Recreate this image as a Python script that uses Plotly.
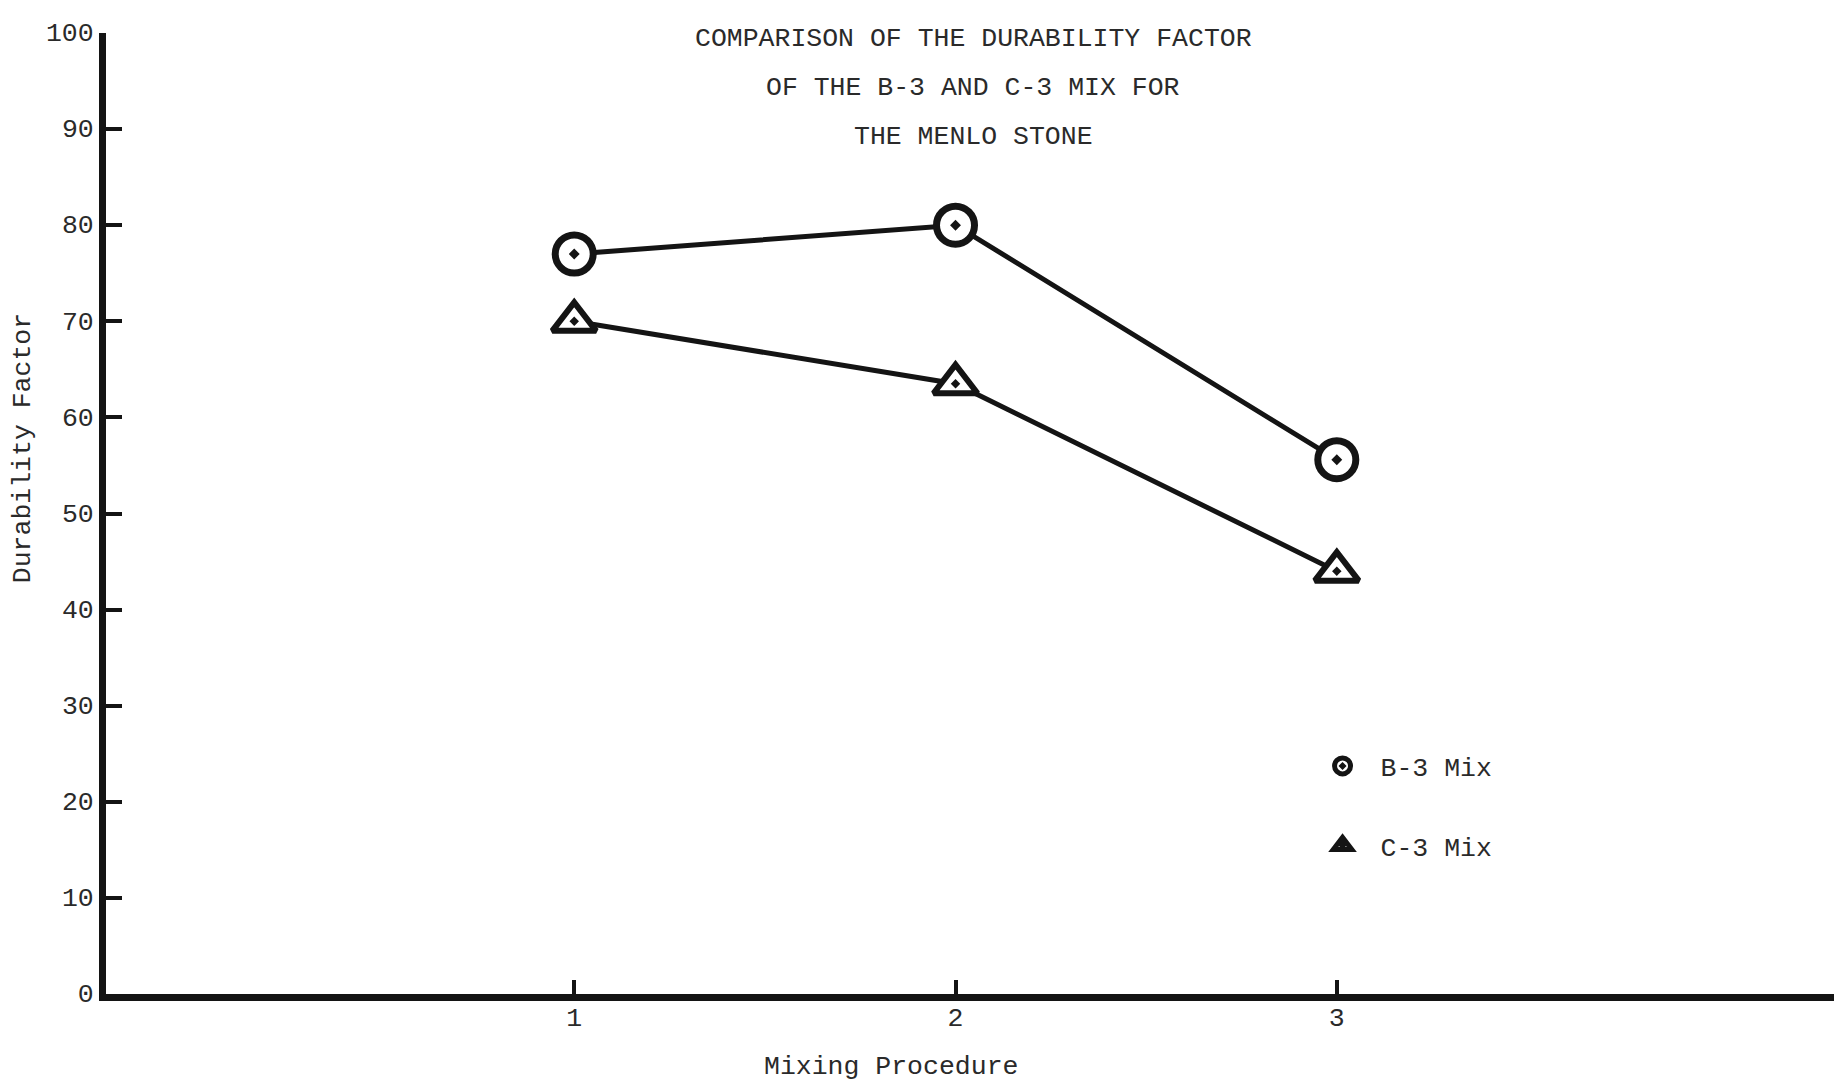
import plotly.graph_objects as go

# ---- data ----
procedures = [1, 2, 3]
b3_values = [77, 80, 55.6]
c3_values = [70, 63.5, 44]
series_names = ["B-3 Mix", "C-3 Mix"]
x_tick_vals = [1, 2, 3]
x_tick_text = ["1", "2", "3"]
y_tick_vals = [0, 10, 20, 30, 40, 50, 60, 70, 80, 90, 100]
y_tick_text = ["0", "10", "20", "30", "40", "50", "60", "70", "80", "90", "100"]
title_lines = [
    "COMPARISON OF THE DURABILITY FACTOR",
    "OF THE B-3 AND C-3 MIX FOR",
    "THE MENLO STONE",
]
x_title = "Mixing Procedure"
y_title = "Durability Factor"

FONT = "Liberation Mono"
INK = "#141414"
TXT = "#2a2a2a"

circle_marker = dict(symbol="circle-dot", size=38, color="white",
                     line=dict(color=INK, width=7))
tri_marker = dict(symbol="triangle-up-dot", size=38, color="white",
                  line=dict(color=INK, width=6))

fig = go.Figure()
fig.add_trace(go.Scatter(
    x=procedures, y=b3_values, name=series_names[0], mode="lines+markers",
    line=dict(color=INK, width=5), marker=circle_marker,
    showlegend=False, cliponaxis=False,
))
fig.add_trace(go.Scatter(
    x=procedures, y=c3_values, name=series_names[1], mode="lines+markers",
    line=dict(color=INK, width=5), marker=tri_marker,
    showlegend=False, cliponaxis=False,
))
# legend entries (marker only)
fig.add_trace(go.Scatter(
    x=[None], y=[None], name=series_names[0], mode="markers",
    marker=circle_marker, legendgroup="b", showlegend=True,
))
fig.add_trace(go.Scatter(
    x=[None], y=[None], name=series_names[1], mode="markers",
    marker=tri_marker, legendgroup="c", showlegend=True,
))

annotations = []
title_y = [0.994, 0.943, 0.892]
for line, yy in zip(title_lines, title_y):
    annotations.append(dict(text=line, xref="paper", yref="paper", x=0.502, y=yy,
                            xanchor="center", yanchor="middle", showarrow=False,
                            font=dict(family=FONT, size=26.5, color=TXT)))
annotations.append(dict(text=x_title, xref="paper", yref="paper", x=0.454, y=-0.076,
                        xanchor="center", yanchor="middle", showarrow=False,
                        font=dict(family=FONT, size=26.5, color=TXT)))
annotations.append(dict(text=y_title, xref="paper", yref="paper", x=-0.048, y=0.568,
                        xanchor="center", yanchor="middle", showarrow=False, textangle=-90,
                        font=dict(family=FONT, size=26.5, color=TXT)))

fig.update_layout(
    width=1838, height=1085,
    margin=dict(l=106, r=4, t=33, b=91),
    paper_bgcolor="white", plot_bgcolor="white",
    font=dict(family=FONT, size=26.5, color=TXT),
    showlegend=True,
    legend=dict(x=0.6936, y=0.262, xanchor="left", yanchor="top",
                bgcolor="rgba(0,0,0,0)", font=dict(family=FONT, size=26.5, color=TXT),
                tracegroupgap=42, traceorder="grouped", itemsizing="trace",
                itemwidth=66),
    annotations=annotations,
)
fig.update_xaxes(
    range=[-0.228, 4.304], showgrid=False, zeroline=False,
    showline=True, linecolor=INK, linewidth=7,
    tickmode="array", tickvals=x_tick_vals, ticktext=x_tick_text,
    ticks="inside", ticklen=14, tickwidth=4, tickcolor=INK,
    ticklabelstandoff=-7,
    tickfont=dict(family=FONT, size=26.5, color=TXT),
)
fig.update_yaxes(
    range=[0, 100], showgrid=False, zeroline=False,
    showline=True, linecolor=INK, linewidth=7,
    tickmode="array", tickvals=y_tick_vals, ticktext=y_tick_text,
    ticks="inside", ticklen=16, tickwidth=4, tickcolor=INK,
    ticklabelshift=-1,
    tickfont=dict(family=FONT, size=26.5, color=TXT),
)

fig.write_html("out.html", config={"displayModeBar": False},
               post_script="document.body.style.margin='0';document.body.style.overflow='hidden';")
